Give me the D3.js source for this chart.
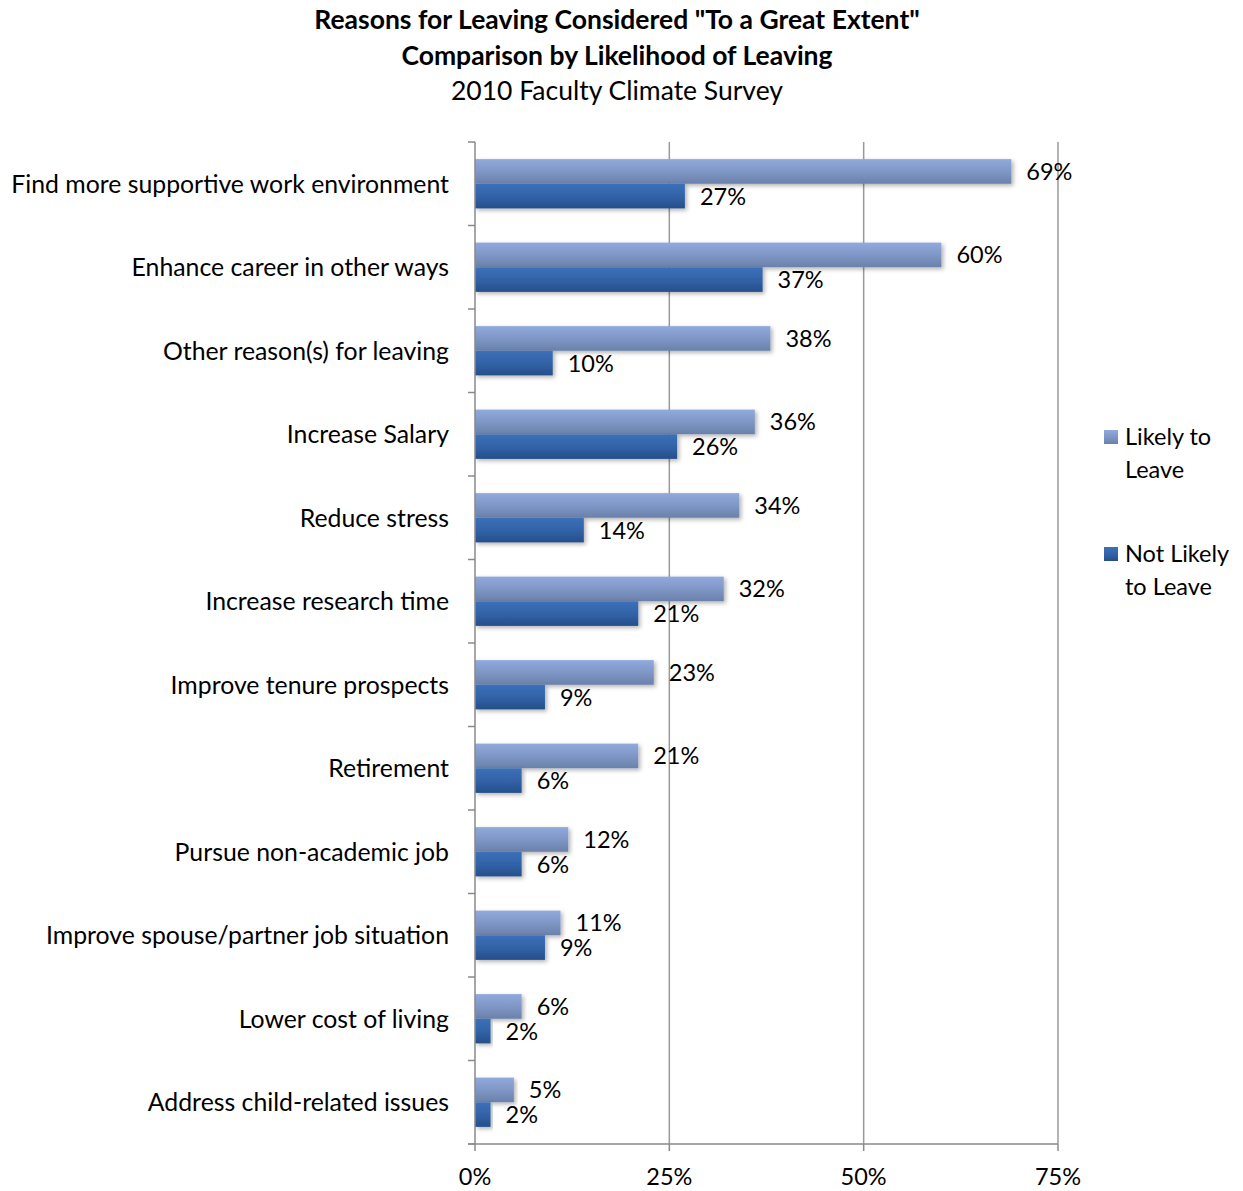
<!DOCTYPE html>
<html>
<head>
<meta charset="utf-8">
<script src="https://cdn.jsdelivr.net/npm/d3@7"></script>
<style>
  body { margin: 0; background: #fff; }
  svg { display: block; }
  text { font-family: Lato, "Open Sans", sans-serif; fill: #000; }
</style>
</head>
<body>
<svg id="chart" width="1243" height="1191"></svg>
<script>
const categories = [
  "Find more supportive work environment",
  "Enhance career in other ways",
  "Other reason(s) for leaving",
  "Increase Salary",
  "Reduce stress",
  "Increase research time",
  "Improve tenure prospects",
  "Retirement",
  "Pursue non-academic job",
  "Improve spouse/partner job situation",
  "Lower cost of living",
  "Address child-related issues"
];
const likelyToLeave =    [69, 60, 38, 36, 34, 32, 23, 21, 12, 11, 6, 5];
const notLikelyToLeave = [27, 37, 10, 26, 14, 21, 9, 6, 6, 9, 2, 2];
const seriesNames = ["Likely to Leave", "Not Likely to Leave"];
const legendLines = [["Likely to", "Leave"], ["Not Likely", "to Leave"]];
const xTicks = [0, 25, 50, 75];
const titleLines = ['Reasons for Leaving Considered "To a Great Extent"', "Comparison by Likelihood of Leaving", "2010 Faculty Climate Survey"];

const svg = d3.select("#chart");
const pL = 475, pR = 1058, pT = 142, pB = 1144;

const x = d3.scaleLinear().domain([0, 75]).range([pL, pR]);
const y = d3.scaleBand().domain(categories).range([pT, pB]).paddingInner(0.41).paddingOuter(0.205);
const sub = d3.scaleBand().domain(seriesNames).range([0, y.bandwidth()]);

const defs = svg.append("defs");
const g1 = defs.append("linearGradient").attr("id", "gLikely").attr("x1", 0).attr("y1", 0).attr("x2", 0).attr("y2", 1);
g1.append("stop").attr("offset", "0%").attr("stop-color", "#90AADB");
g1.append("stop").attr("offset", "45%").attr("stop-color", "#8199C9");
g1.append("stop").attr("offset", "100%").attr("stop-color", "#6A81AA");
const g2 = defs.append("linearGradient").attr("id", "gNot").attr("x1", 0).attr("y1", 0).attr("x2", 0).attr("y2", 1);
g2.append("stop").attr("offset", "0%").attr("stop-color", "#3C70B8");
g2.append("stop").attr("offset", "50%").attr("stop-color", "#3263A8");
g2.append("stop").attr("offset", "100%").attr("stop-color", "#264E8A");
const f = defs.append("filter").attr("id", "shadow").attr("x", "-5%").attr("y", "-20%").attr("width", "115%").attr("height", "160%");
f.append("feDropShadow").attr("dx", 2).attr("dy", 2).attr("stdDeviation", 2).attr("flood-color", "#000").attr("flood-opacity", 0.3);
const fills = ["url(#gLikely)", "url(#gNot)"];

// Title
svg.append("g").selectAll("text").data(titleLines).join("text")
  .attr("x", 617).attr("y", (d, i) => 29 + i * 35.5)
  .attr("text-anchor", "middle")
  .style("font-size", "26.5px")
  .style("font-weight", (d, i) => i < 2 ? "bold" : "normal")
  .text(d => d);

// Gridlines
svg.append("g").selectAll("line").data(xTicks.filter(t => t > 0)).join("line")
  .attr("x1", d => x(d)).attr("x2", d => x(d))
  .attr("y1", pT).attr("y2", pB)
  .attr("stroke", "#9A9A9A").attr("stroke-width", 1.5);

// Bars
const series = [likelyToLeave, notLikelyToLeave];
series.forEach((vals, si) => {
  const gs = svg.append("g");
  gs.selectAll("rect").data(categories).join("rect")
    .attr("x", x(0))
    .attr("y", d => y(d) + sub(seriesNames[si]))
    .attr("width", (d, i) => x(vals[i]) - x(0))
    .attr("height", sub.bandwidth())
    .attr("fill", fills[si])
    .attr("filter", "url(#shadow)");
  gs.selectAll("text").data(categories).join("text")
    .attr("x", (d, i) => x(vals[i]) + 15)
    .attr("y", d => y(d) + sub(seriesNames[si]) + sub.bandwidth() / 2)
    .attr("dy", "0.36em")
    .style("font-size", "23.5px")
    .text((d, i) => vals[i] + "%");
});

// Y axis
const yAxisG = svg.append("g").attr("transform", `translate(${pL},0)`);
yAxisG.append("line").attr("x1", 0).attr("x2", 0).attr("y1", pT).attr("y2", pB).attr("stroke", "#8A8A8A").attr("stroke-width", 1.5);
const boundaries = d3.range(categories.length + 1).map(i => pT + i * y.step());
yAxisG.selectAll("line.tk").data(boundaries).join("line").attr("class", "tk")
  .attr("x1", -7).attr("x2", 0).attr("y1", d => d).attr("y2", d => d)
  .attr("stroke", "#8A8A8A").attr("stroke-width", 1.5);
yAxisG.selectAll("text").data(categories).join("text")
  .attr("x", -26).attr("y", d => y(d) + y.bandwidth() / 2)
  .attr("dy", "0.36em")
  .attr("text-anchor", "end")
  .style("font-size", "24.8px")
  .text(d => d);

// X axis
const xAxisG = svg.append("g").attr("transform", `translate(0,${pB})`);
xAxisG.append("line").attr("x1", pL - 7).attr("x2", pR).attr("y1", 0).attr("y2", 0).attr("stroke", "#8A8A8A").attr("stroke-width", 1.5);
xAxisG.selectAll("line.tk").data(xTicks).join("line").attr("class", "tk")
  .attr("x1", d => x(d)).attr("x2", d => x(d)).attr("y1", 0).attr("y2", 7)
  .attr("stroke", "#8A8A8A").attr("stroke-width", 1.5);
xAxisG.selectAll("text").data(xTicks).join("text")
  .attr("x", d => x(d)).attr("y", 41)
  .attr("text-anchor", "middle")
  .style("font-size", "23.5px")
  .text(d => d + "%");

// Legend
const leg = svg.append("g").attr("transform", "translate(1104,0)");
const legY = [437, 554];
legendLines.forEach((lines, i) => {
  leg.append("rect").attr("x", 0).attr("y", legY[i] - 7).attr("width", 14).attr("height", 14).attr("fill", fills[i]);
  leg.append("g").selectAll("text").data(lines).join("text")
    .attr("x", 21).attr("y", (d, j) => legY[i] + j * 33)
    .attr("dy", "0.36em")
    .style("font-size", "23.5px")
    .text(d => d);
});
</script>
</body>
</html>
